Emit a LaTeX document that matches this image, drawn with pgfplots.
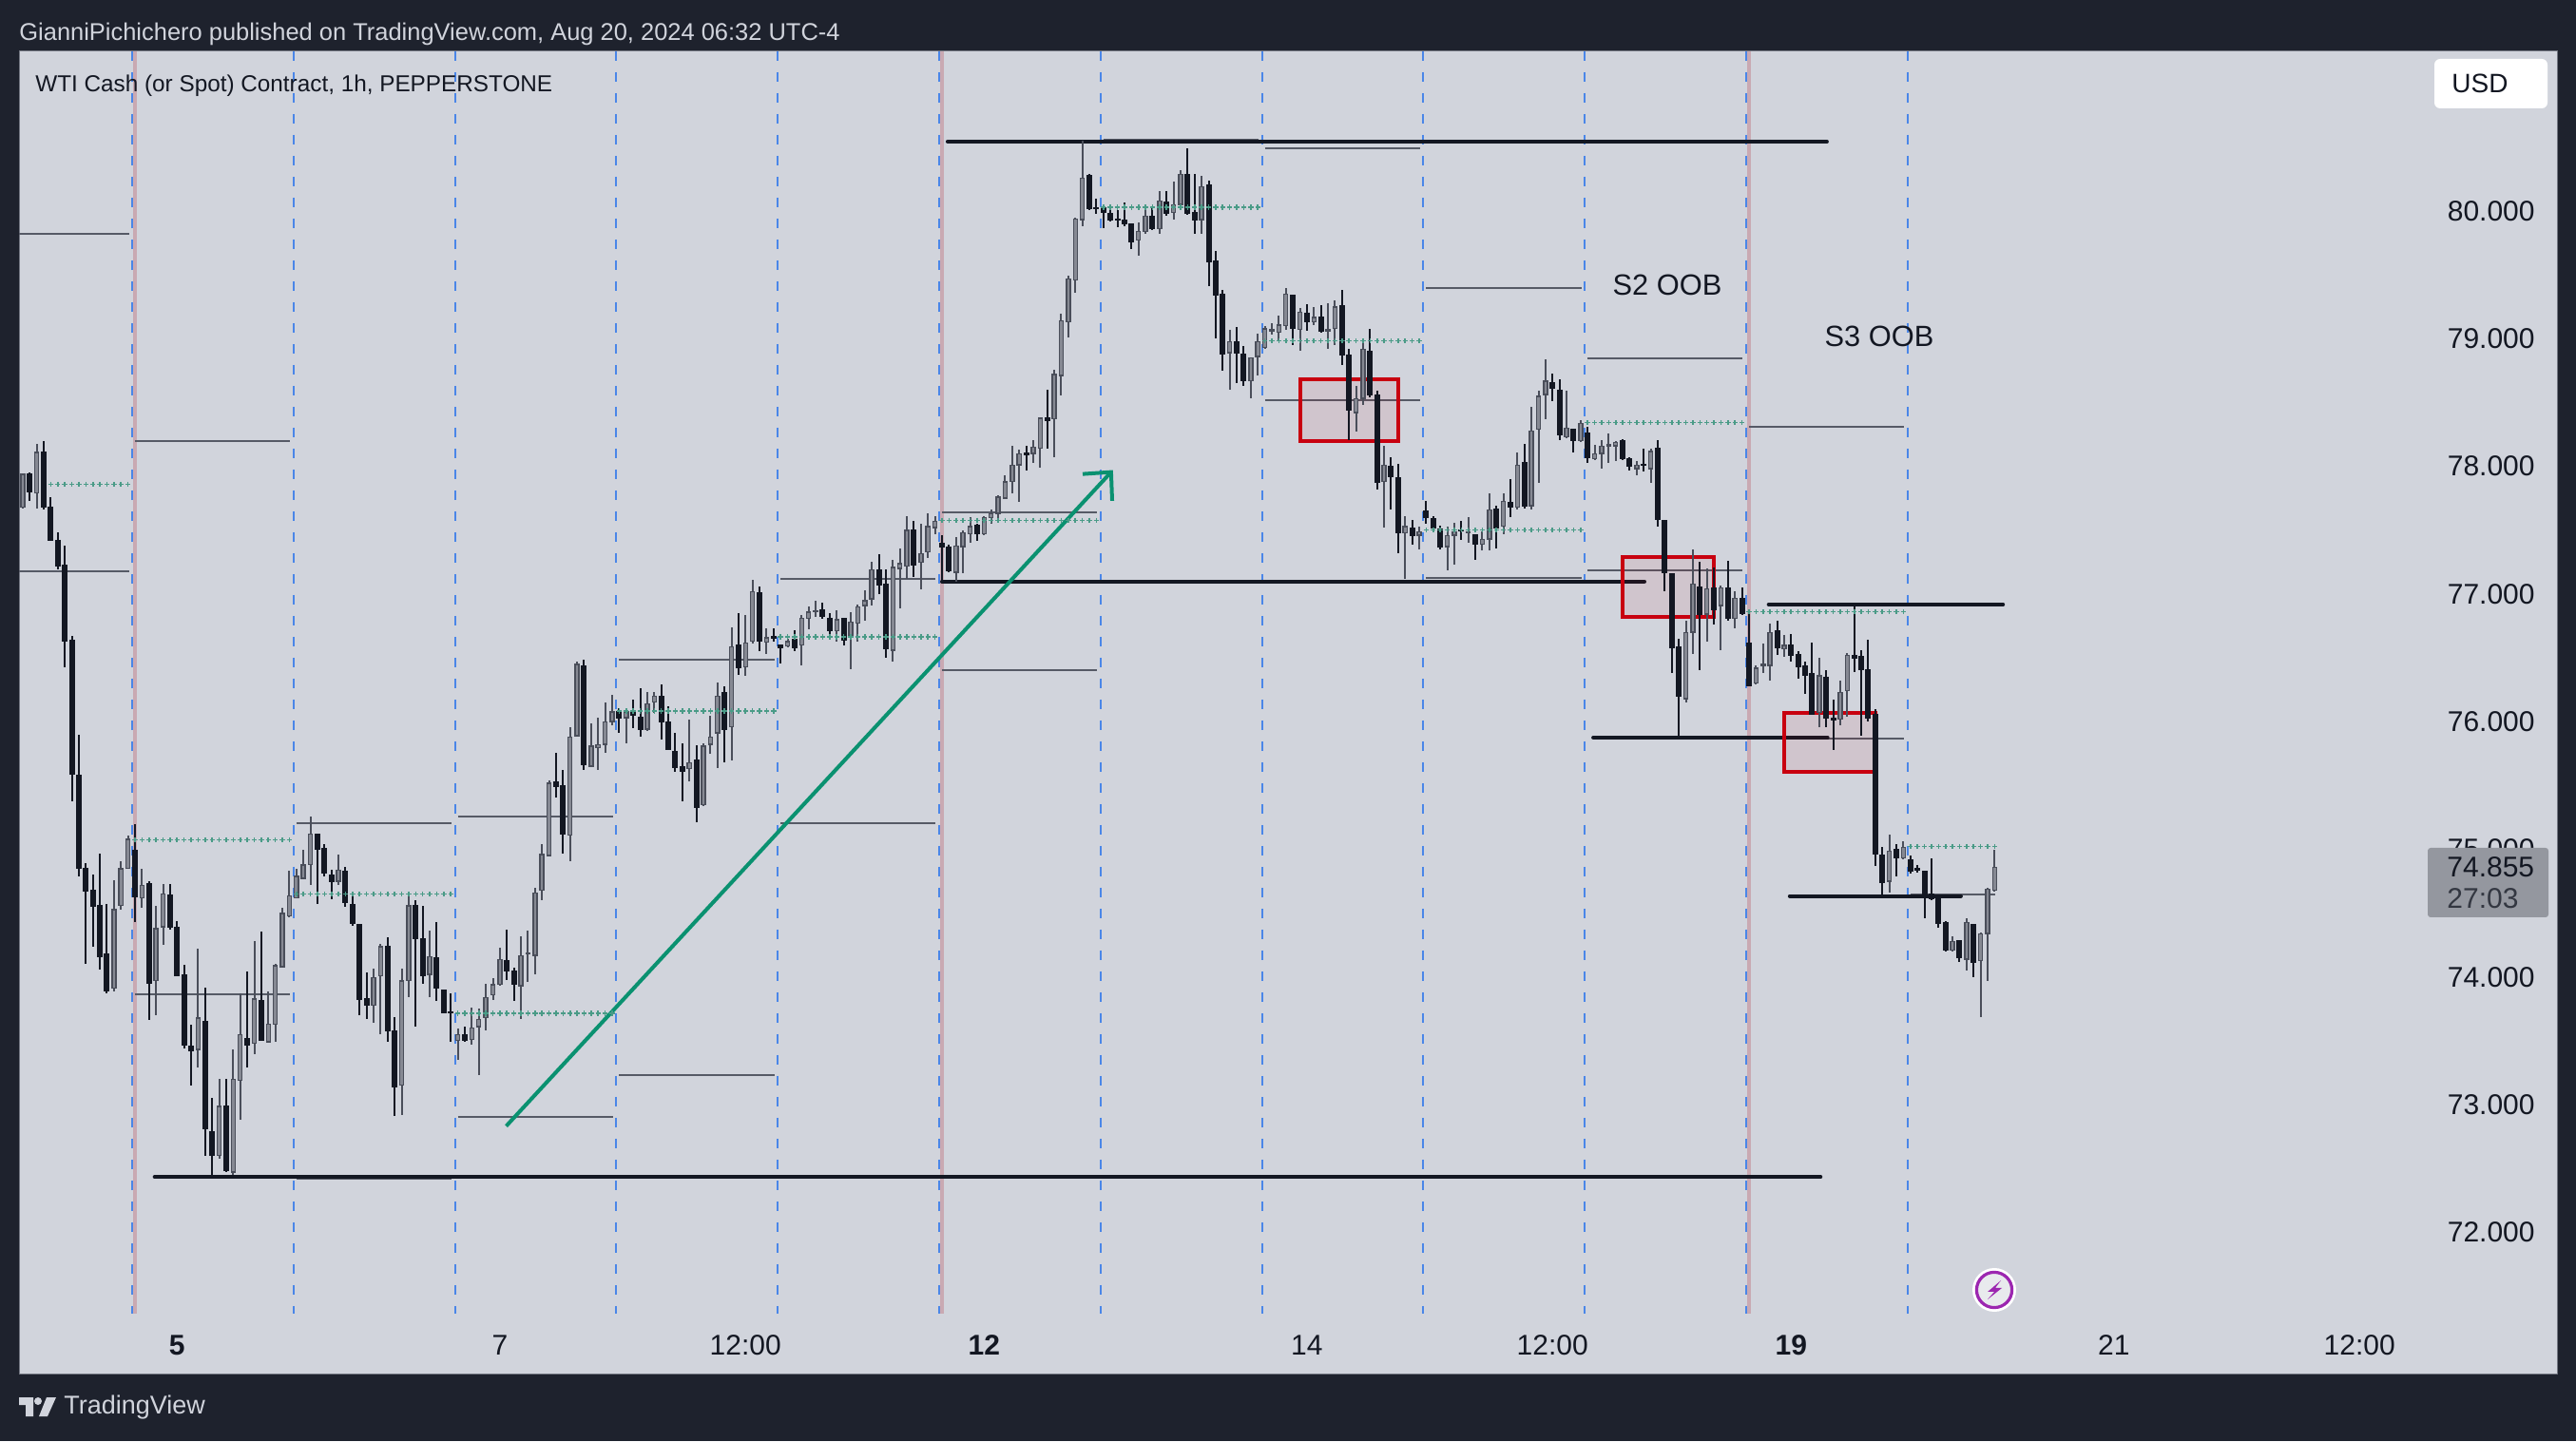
\documentclass[border=0pt]{standalone}
\usepackage{pgfplots}
\usepackage{pgfplotstable}
\usepackage{fontspec}
\setmainfont{Liberation Sans}
\pgfplotsset{compat=1.18}
\definecolor{dark}{HTML}{1E222D}
\definecolor{panel}{HTML}{D1D4DC}
\definecolor{ink}{HTML}{131722}
\definecolor{wickup}{HTML}{4A4E5A}
\definecolor{bodyup}{HTML}{868993}
\definecolor{dayblue}{HTML}{4A86E8}
\definecolor{daypink}{HTML}{C9A9B2}
\definecolor{lvlgray}{HTML}{565A66}
\definecolor{dotgreen}{HTML}{4A9B87}
\definecolor{arrowgreen}{HTML}{0A9170}
\definecolor{boxred}{HTML}{C8000F}
\definecolor{tag}{HTML}{94979F}
\definecolor{bolt}{HTML}{9C27B0}
\pgfplotstableread{
i o h l c
0 77.68 77.94 77.67 77.94
1 77.94 77.95 77.73 77.80
2 77.79 78.18 77.67 78.11
3 78.11 78.20 77.66 77.68
4 77.68 77.76 77.42 77.42
5 77.42 77.48 77.19 77.22
6 77.23 77.38 76.43 76.63
7 76.64 76.67 75.38 75.59
8 75.58 75.90 74.79 74.85
9 74.85 74.89 74.10 74.67
10 74.68 74.80 74.24 74.55
11 74.56 74.97 74.06 74.16
12 74.18 74.57 73.87 73.89
13 73.91 74.76 73.89 74.53
14 74.56 74.91 74.53 74.85
15 74.85 75.11 74.85 75.08
16 74.99 75.20 74.43 74.63
17 74.62 74.85 74.54 74.72
18 74.73 74.75 73.66 73.95
19 73.97 74.56 73.70 74.38
20 74.39 74.73 74.25 74.65
21 74.64 74.73 74.37 74.39
22 74.39 74.44 74.01 74.01
23 74.02 74.10 73.44 73.47
24 73.46 73.63 73.15 73.42
25 73.43 74.22 73.29 73.68
26 73.65 73.92 72.60 72.81
27 72.79 73.05 72.44 72.60
28 72.60 73.20 72.58 72.99
29 72.99 73.20 72.47 72.48
30 72.47 73.43 72.45 73.20
31 73.19 73.87 72.88 73.55
32 73.52 74.04 73.29 73.47
33 73.48 74.28 73.40 73.83
34 73.82 74.36 73.50 73.50
35 73.49 73.89 73.49 73.63
36 73.63 74.10 73.49 74.09
37 74.08 74.54 74.08 74.50
38 74.48 74.83 74.47 74.64
39 74.62 74.85 74.62 74.79
40 74.77 75.00 74.77 74.88
41 74.88 75.26 74.72 75.12
42 75.12 75.12 74.57 75.00
43 75.01 75.04 74.79 74.81
44 74.80 74.84 74.61 74.75
45 74.75 74.96 74.72 74.84
46 74.83 74.86 74.55 74.58
47 74.57 74.64 74.40 74.42
48 74.41 74.41 73.70 73.82
49 73.83 74.04 73.67 73.78
50 73.78 74.07 73.64 74.00
51 74.01 74.26 73.55 74.24
52 74.24 74.31 73.49 73.58
53 73.58 73.69 72.91 73.14
54 73.15 74.07 72.92 73.97
55 73.97 74.65 73.84 74.56
56 74.56 74.60 73.61 74.30
57 74.30 74.56 73.95 74.01
58 74.02 74.36 73.84 74.16
59 74.15 74.43 73.81 73.91
60 73.90 73.90 73.72 73.72
61 73.73 73.87 73.49 73.72
62 73.50 73.60 73.35 73.55
63 73.55 73.61 73.49 73.50
64 73.51 73.76 73.47 73.60
65 73.61 73.75 73.23 73.67
66 73.68 73.95 73.58 73.84
67 73.86 73.99 73.82 73.94
68 73.94 74.23 73.93 74.14
69 74.13 74.37 73.98 74.05
70 74.05 74.07 73.81 73.94
71 73.93 74.32 73.67 74.17
72 74.18 74.36 73.96 74.19
73 74.17 74.70 74.02 74.66
74 74.68 75.04 74.60 74.96
75 74.95 75.54 74.95 75.52
76 75.53 75.76 75.41 75.49
77 75.50 75.62 74.97 75.12
78 75.11 75.96 74.91 75.88
79 75.89 76.47 75.89 76.45
80 76.44 76.49 75.62 75.66
81 75.65 75.99 75.65 75.81
82 75.80 76.03 75.62 75.82
83 75.82 76.15 75.76 76.00
84 76.00 76.21 75.97 76.08
85 76.08 76.11 75.91 76.03
86 76.03 76.11 75.83 76.08
87 76.08 76.17 75.95 76.05
88 76.04 76.26 75.88 75.94
89 75.94 76.23 75.93 76.14
90 76.15 76.23 76.07 76.20
91 76.20 76.29 75.86 76.00
92 76.00 76.12 75.78 75.78
93 75.77 75.91 75.61 75.64
94 75.65 75.83 75.38 75.61
95 75.63 76.02 75.53 75.68
96 75.70 75.82 75.21 75.33
97 75.35 75.83 75.34 75.81
98 75.82 76.05 75.75 75.88
99 75.91 76.31 75.64 76.20
100 76.23 76.28 75.68 75.94
101 75.96 76.74 75.70 76.59
102 76.60 76.85 76.37 76.42
103 76.43 76.84 76.36 76.62
104 76.63 77.11 76.61 77.02
105 77.01 77.06 76.55 76.63
106 76.62 76.73 76.53 76.66
107 76.67 76.73 76.63 76.65
108 76.60 76.60 76.46 76.58
109 76.59 76.65 76.58 76.63
110 76.65 76.72 76.55 76.58
111 76.60 76.84 76.44 76.81
112 76.81 76.90 76.72 76.86
113 76.86 76.95 76.82 76.87
114 76.88 76.93 76.81 76.82
115 76.81 76.85 76.69 76.71
116 76.71 76.87 76.63 76.80
117 76.81 76.81 76.60 76.64
118 76.66 76.86 76.41 76.78
119 76.77 76.92 76.63 76.90
120 76.91 77.03 76.79 76.95
121 76.96 77.25 76.91 77.19
122 77.19 77.31 77.00 77.07
123 77.08 77.19 76.50 76.57
124 76.56 77.27 76.47 77.21
125 77.20 77.36 76.89 77.24
126 77.22 77.61 77.12 77.50
127 77.50 77.57 77.13 77.23
128 77.25 77.55 77.04 77.32
129 77.33 77.63 77.28 77.53
130 77.52 77.61 77.47 77.57
131 77.40 77.46 77.10 77.37
132 77.37 77.39 77.17 77.18
133 77.17 77.45 77.10 77.38
134 77.37 77.50 77.16 77.48
135 77.47 77.60 77.40 77.53
136 77.54 77.55 77.42 77.47
137 77.47 77.61 77.46 77.60
138 77.60 77.66 77.55 77.63
139 77.63 77.77 77.58 77.76
140 77.75 77.93 77.75 77.88
141 77.88 78.16 77.79 78.01
142 78.01 78.13 77.72 78.10
143 78.11 78.16 77.97 78.09
144 78.10 78.21 78.03 78.15
145 78.14 78.38 77.99 78.38
146 78.38 78.60 78.14 78.36
147 78.37 78.76 78.07 78.72
148 78.71 79.20 78.56 79.14
149 79.13 79.49 79.01 79.47
150 79.46 79.95 79.36 79.94
151 79.93 80.55 79.88 80.26
152 80.28 80.29 80.01 80.02
153 80.03 80.10 79.98 80.02
154 80.03 80.05 79.87 79.99
155 79.98 80.05 79.92 79.93
156 79.94 80.01 79.87 79.93
157 79.93 80.07 79.88 79.90
158 79.90 79.90 79.70 79.76
159 79.77 79.91 79.65 79.84
160 79.84 80.03 79.82 79.96
161 79.96 80.04 79.85 79.86
162 79.86 80.16 79.82 80.08
163 80.07 80.16 79.96 79.98
164 79.99 80.23 79.93 80.05
165 80.05 80.32 80.02 80.29
166 80.29 80.49 79.97 79.98
167 79.99 80.29 79.82 79.93
168 79.93 80.28 79.82 80.19
169 80.21 80.24 79.41 79.60
170 79.61 79.69 79.00 79.34
171 79.35 79.38 78.75 78.88
172 78.89 79.07 78.60 78.98
173 78.98 79.09 78.65 78.89
174 78.88 78.94 78.63 78.67
175 78.67 78.85 78.53 78.85
176 78.86 79.04 78.71 78.98
177 78.93 79.10 78.92 79.08
178 79.06 79.12 79.03 79.07
179 79.05 79.18 78.98 79.11
180 79.10 79.40 79.07 79.35
181 79.34 79.34 78.95 79.08
182 79.07 79.24 78.91 79.21
183 79.20 79.27 79.06 79.13
184 79.13 79.25 79.11 79.17
185 79.17 79.26 79.05 79.06
186 79.06 79.28 78.92 79.07
187 79.08 79.30 78.95 79.25
188 79.26 79.38 78.79 78.87
189 78.87 78.92 78.21 78.44
190 78.42 78.63 78.27 78.53
191 78.53 78.97 78.48 78.92
192 78.90 79.08 78.54 78.56
193 78.56 78.59 77.82 77.87
194 77.88 78.16 77.52 78.01
195 78.00 78.07 77.66 77.92
196 77.91 78.02 77.32 77.48
197 77.48 77.61 77.12 77.53
198 77.52 77.58 77.39 77.46
199 77.46 77.53 77.35 77.49
200 77.65 77.73 77.55 77.60
201 77.59 77.61 77.51 77.52
202 77.51 77.54 77.35 77.37
203 77.37 77.53 77.19 77.46
204 77.46 77.56 77.23 77.49
205 77.50 77.57 77.42 77.49
206 77.48 77.60 77.40 77.49
207 77.47 77.47 77.27 77.39
208 77.39 77.49 77.34 77.43
209 77.43 77.79 77.34 77.66
210 77.67 77.69 77.36 77.52
211 77.53 77.79 77.47 77.73
212 77.72 77.90 77.60 77.68
213 77.68 78.11 77.66 78.01
214 78.03 78.18 77.67 77.69
215 77.69 78.47 77.66 78.28
216 78.29 78.59 77.87 78.55
217 78.56 78.84 78.37 78.67
218 78.66 78.73 78.51 78.61
219 78.60 78.68 78.21 78.25
220 78.23 78.59 78.22 78.30
221 78.29 78.29 78.11 78.20
222 78.20 78.36 78.19 78.34
223 78.26 78.31 78.03 78.07
224 78.06 78.17 78.05 78.10
225 78.10 78.21 77.98 78.16
226 78.16 78.26 78.03 78.17
227 78.16 78.20 78.04 78.19
228 78.20 78.21 78.05 78.06
229 78.06 78.07 77.97 78.00
230 77.98 78.04 77.93 78.01
231 78.02 78.14 77.96 78.01
232 77.98 78.14 77.87 78.12
233 78.14 78.21 77.53 77.58
234 77.58 77.58 77.02 77.17
235 77.16 77.16 76.38 76.58
236 76.59 76.65 75.88 76.20
237 76.18 76.79 76.15 76.70
238 76.70 77.35 76.53 77.08
239 77.06 77.25 76.40 76.84
240 76.84 77.20 76.63 77.04
241 77.05 77.21 76.76 76.88
242 76.91 77.07 76.56 77.05
243 77.05 77.26 76.79 76.81
244 76.81 77.02 76.73 76.97
245 76.97 77.05 76.84 76.85
246 76.62 76.84 76.28 76.28
247 76.30 76.44 76.29 76.42
248 76.44 76.61 76.38 76.45
249 76.44 76.77 76.32 76.70
250 76.71 76.79 76.52 76.58
251 76.57 76.68 76.51 76.60
252 76.60 76.69 76.47 76.52
253 76.53 76.55 76.34 76.43
254 76.44 76.47 76.22 76.36
255 76.38 76.62 76.06 76.06
256 76.07 76.50 75.96 76.36
257 76.35 76.40 75.96 76.03
258 76.03 76.17 75.78 76.01
259 76.02 76.32 75.97 76.23
260 76.24 76.54 76.04 76.52
261 76.52 76.92 76.39 76.50
262 76.51 76.56 75.89 76.41
263 76.41 76.64 76.00 76.03
264 76.06 76.10 74.87 74.96
265 74.96 75.02 74.63 74.74
266 74.75 75.12 74.66 74.99
267 75.00 75.04 74.79 74.93
268 74.93 75.06 74.92 75.02
269 74.92 74.95 74.81 74.83
270 74.85 74.88 74.82 74.84
271 74.83 74.83 74.46 74.65
272 74.65 74.93 74.60 74.61
273 74.62 74.62 74.39 74.42
274 74.43 74.44 74.20 74.21
275 74.21 74.32 74.20 74.28
276 74.29 74.29 74.12 74.15
277 74.14 74.46 74.05 74.43
278 74.41 74.41 74.00 74.11
279 74.13 74.35 73.69 74.34
280 74.34 74.70 73.97 74.69
281 74.68 75.00 74.67 74.86
}\candles
\begin{document}
\begin{tikzpicture}
\fill[dark] (0,0) rectangle (1355pt,758pt);
\begin{axis}[
  at={(10pt,35.5pt)}, anchor=south west,
  scale only axis, width=1335pt, height=695.5pt,
  xmin=-0.525, xmax=361.14, ymin=70.8935, ymax=81.251,
  enlargelimits=false, unbounded coords=jump,
  axis background/.style={fill=panel},
  axis line style={draw=wickup!70!panel, line width=0.5pt},
  major tick length=0pt, minor tick num=0,
  xtick={22,68,103,137,183,218,252,298,333},
  xticklabels={\textbf{5},7,12:00,\textbf{12},14,12:00,\textbf{19},21,12:00},
  ytick={72,73,74,75,76,77,78,79,80},
  yticklabel pos=right,
  y tick label style={/pgf/number format/fixed, /pgf/number format/fixed zerofill, /pgf/number format/precision=3, /pgf/number format/assume math mode=true, anchor=east, inner sep=0pt, xshift=-11.5pt, font=\fontsize{15}{18}\selectfont, text=ink},
  x tick label style={anchor=center, inner sep=0pt, yshift=15pt, font=\fontsize{15}{18}\selectfont, text=ink},
]
% session separators
\addplot[daypink, line width=2pt, forget plot] coordinates {(16,71.363)(16,81.251)(16,nan)(131,71.363)(131,81.251)(131,nan)(246,71.363)(246,81.251)};
\addplot[dayblue, line width=1pt, dash pattern=on 5pt off 6pt, forget plot] coordinates {
(15.6,81.251)(15.6,71.363)(15.6,nan)(38.6,81.251)(38.6,71.363)(38.6,nan)(61.6,81.251)(61.6,71.363)(61.6,nan)
(84.6,81.251)(84.6,71.363)(84.6,nan)(107.6,81.251)(107.6,71.363)(107.6,nan)(130.6,81.251)(130.6,71.363)(130.6,nan)
(153.6,81.251)(153.6,71.363)(153.6,nan)(176.6,81.251)(176.6,71.363)(176.6,nan)(199.6,81.251)(199.6,71.363)(199.6,nan)
(222.6,81.251)(222.6,71.363)(222.6,nan)(245.6,81.251)(245.6,71.363)(245.6,nan)(268.6,81.251)(268.6,71.363)};
% previous day high and low
\addplot[lvlgray, line width=1pt, forget plot] coordinates {
(-0.5,79.82)(15.2,79.82)(15.2,nan)(-0.5,77.18)(15.2,77.18)(15.2,nan)
(16,78.196)(38.1,78.196)(38.1,nan)(16,73.867)(38.1,73.867)(38.1,nan)
(39,75.205)(61.1,75.205)(61.1,nan)(39,72.42)(61.1,72.42)(61.1,nan)
(62,75.256)(84.1,75.256)(84.1,nan)(62,72.905)(84.1,72.905)(84.1,nan)
(85,76.486)(107.1,76.486)(107.1,nan)(85,73.23)(107.1,73.23)(107.1,nan)
(108,77.117)(130.1,77.117)(130.1,nan)(108,75.206)(130.1,75.206)(130.1,nan)
(131,77.637)(153.1,77.637)(153.1,nan)(131,76.40)(153.1,76.40)(153.1,nan)
(154,80.56)(176.1,80.56)(176.1,nan)(154,77.10)(176.1,77.10)(176.1,nan)
(177,80.494)(199.1,80.494)(199.1,nan)(177,78.52)(199.1,78.52)(199.1,nan)
(200,79.40)(222.1,79.40)(222.1,nan)(200,77.125)(222.1,77.125)(222.1,nan)
(223,78.843)(245.1,78.843)(245.1,nan)(223,77.183)(245.1,77.183)(245.1,nan)
(246,78.313)(268.1,78.313)(268.1,nan)(246,75.87)(268.1,75.87)(268.1,nan)
(269,76.917)(281.1,76.917)(281.1,nan)(269,74.65)(281.1,74.65)};
% prior day pivots
\addplot[only marks, mark=+, mark size=1.35pt, mark options={draw=dotgreen, line width=0.8pt}, forget plot] coordinates {
(4,77.858)(5,77.858)(6,77.858)(7,77.858)(8,77.858)(9,77.858)(10,77.858)(11,77.858)(12,77.858)(13,77.858)(14,77.858)(15,77.858)
(16,75.073)(17,75.073)(18,75.073)(19,75.073)(20,75.073)(21,75.073)(22,75.073)(23,75.073)(24,75.073)(25,75.073)(26,75.073)(27,75.073)(28,75.073)(29,75.073)(30,75.073)(31,75.073)(32,75.073)(33,75.073)(34,75.073)(35,75.073)(36,75.073)(37,75.073)(38,75.073)
(39,74.65)(40,74.65)(41,74.65)(42,74.65)(43,74.65)(44,74.65)(45,74.65)(46,74.65)(47,74.65)(48,74.65)(49,74.65)(50,74.65)(51,74.65)(52,74.65)(53,74.65)(54,74.65)(55,74.65)(56,74.65)(57,74.65)(58,74.65)(59,74.65)(60,74.65)(61,74.65)
(62,73.717)(63,73.717)(64,73.717)(65,73.717)(66,73.717)(67,73.717)(68,73.717)(69,73.717)(70,73.717)(71,73.717)(72,73.717)(73,73.717)(74,73.717)(75,73.717)(76,73.717)(77,73.717)(78,73.717)(79,73.717)(80,73.717)(81,73.717)(82,73.717)(83,73.717)(84,73.717)
(85,76.083)(86,76.083)(87,76.083)(88,76.083)(89,76.083)(90,76.083)(91,76.083)(92,76.083)(93,76.083)(94,76.083)(95,76.083)(96,76.083)(97,76.083)(98,76.083)(99,76.083)(100,76.083)(101,76.083)(102,76.083)(103,76.083)(104,76.083)(105,76.083)(106,76.083)(107,76.083)
(108,76.665)(109,76.665)(110,76.665)(111,76.665)(112,76.665)(113,76.665)(114,76.665)(115,76.665)(116,76.665)(117,76.665)(118,76.665)(119,76.665)(120,76.665)(121,76.665)(122,76.665)(123,76.665)(124,76.665)(125,76.665)(126,76.665)(127,76.665)(128,76.665)(129,76.665)(130,76.665)
(131,77.577)(132,77.577)(133,77.577)(134,77.577)(135,77.577)(136,77.577)(137,77.577)(138,77.577)(139,77.577)(140,77.577)(141,77.577)(142,77.577)(143,77.577)(144,77.577)(145,77.577)(146,77.577)(147,77.577)(148,77.577)(149,77.577)(150,77.577)(151,77.577)(152,77.577)(153,77.577)
(154,80.03)(155,80.03)(156,80.03)(157,80.03)(158,80.03)(159,80.03)(160,80.03)(161,80.03)(162,80.03)(163,80.03)(164,80.03)(165,80.03)(166,80.03)(167,80.03)(168,80.03)(169,80.03)(170,80.03)(171,80.03)(172,80.03)(173,80.03)(174,80.03)(175,80.03)(176,80.03)
(177,78.983)(178,78.983)(179,78.983)(180,78.983)(181,78.983)(182,78.983)(183,78.983)(184,78.983)(185,78.983)(186,78.983)(187,78.983)(188,78.983)(189,78.983)(190,78.983)(191,78.983)(192,78.983)(193,78.983)(194,78.983)(195,78.983)(196,78.983)(197,78.983)(198,78.983)(199,78.983)
(200,77.501)(201,77.501)(202,77.501)(203,77.501)(204,77.501)(205,77.501)(206,77.501)(207,77.501)(208,77.501)(209,77.501)(210,77.501)(211,77.501)(212,77.501)(213,77.501)(214,77.501)(215,77.501)(216,77.501)(217,77.501)(218,77.501)(219,77.501)(220,77.501)(221,77.501)(222,77.501)
(223,78.342)(224,78.342)(225,78.342)(226,78.342)(227,78.342)(228,78.342)(229,78.342)(230,78.342)(231,78.342)(232,78.342)(233,78.342)(234,78.342)(235,78.342)(236,78.342)(237,78.342)(238,78.342)(239,78.342)(240,78.342)(241,78.342)(242,78.342)(243,78.342)(244,78.342)(245,78.342)
(246,76.861)(247,76.861)(248,76.861)(249,76.861)(250,76.861)(251,76.861)(252,76.861)(253,76.861)(254,76.861)(255,76.861)(256,76.861)(257,76.861)(258,76.861)(259,76.861)(260,76.861)(261,76.861)(262,76.861)(263,76.861)(264,76.861)(265,76.861)(266,76.861)(267,76.861)(268,76.861)
(269,75.021)(270,75.021)(271,75.021)(272,75.021)(273,75.021)(274,75.021)(275,75.021)(276,75.021)(277,75.021)(278,75.021)(279,75.021)(280,75.021)(281,75.021)};
% key levels
\addplot[ink, line width=2pt, line cap=round, forget plot] coordinates {
(131.8,80.544)(257.1,80.544)(257.1,nan)(131,77.098)(231.1,77.098)(231.1,nan)(18.8,72.434)(256.2,72.434)(256.2,nan)
(248.8,76.918)(282.2,76.918)(282.2,nan)(223.8,75.875)(257.2,75.875)(257.2,nan)(251.8,74.634)(276.2,74.634)};
% zones
\addplot[draw=boxred, line width=2pt, fill=boxred, fill opacity=0.07, draw opacity=1, forget plot] coordinates {(182.04,78.682)(196.02,78.682)(196.02,78.198)(182.04,78.198)} -- cycle;
\addplot[draw=boxred, line width=2pt, fill=boxred, fill opacity=0.07, draw opacity=1, forget plot] coordinates {(228,77.29)(241,77.29)(241,76.82)(228,76.82)} -- cycle;
\addplot[draw=boxred, line width=2pt, fill=boxred, fill opacity=0.07, draw opacity=1, forget plot] coordinates {(251,76.07)(264,76.07)(264,75.61)(251,75.61)} -- cycle;
% arrow
\addplot[arrowgreen, line width=2pt, forget plot] coordinates {(68.9,72.832)(155.1,77.955)};
\addplot[arrowgreen, line width=2pt, forget plot] coordinates {(151.05,77.94)(155.1,77.955)(155.25,77.73)};
% candles: wicks
\addplot[draw=none, no marks, forget plot, x filter/.expression={\thisrow{c}>=\thisrow{o} ? x : nan},
  error bars/.cd, y dir=both, y explicit, error mark=none, error bar style={draw=wickup, line width=1pt}]
  table[x=i, y expr=(\thisrow{h}+\thisrow{l})/2, y error expr=(\thisrow{h}-\thisrow{l})/2] {\candles};
\addplot[draw=none, no marks, forget plot, x filter/.expression={\thisrow{c}<\thisrow{o} ? x : nan},
  error bars/.cd, y dir=both, y explicit, error mark=none, error bar style={draw=ink, line width=1pt}]
  table[x=i, y expr=(\thisrow{h}+\thisrow{l})/2, y error expr=(\thisrow{h}-\thisrow{l})/2] {\candles};
% candles: bodies
\addplot[draw=none, no marks, forget plot, x filter/.expression={\thisrow{c}>=\thisrow{o} ? x : nan},
  error bars/.cd, y dir=both, y explicit, error mark=none, error bar style={draw=wickup, line width=2.75pt}]
  table[x=i, y expr=(\thisrow{c}+\thisrow{o})/2, y error expr=(\thisrow{c}-\thisrow{o})/2+0.003] {\candles};
\addplot[draw=none, no marks, forget plot, x filter/.expression={\thisrow{c}>=\thisrow{o} ? x : nan},
  error bars/.cd, y dir=both, y explicit, error mark=none, error bar style={draw=bodyup, line width=1.3pt}]
  table[x=i, y expr=(\thisrow{c}+\thisrow{o})/2, y error expr={max((\thisrow{c}-\thisrow{o})/2-0.007,0)}] {\candles};
\addplot[draw=none, no marks, forget plot, x filter/.expression={\thisrow{c}<\thisrow{o} ? x : nan},
  error bars/.cd, y dir=both, y explicit, error mark=none, error bar style={draw=ink, line width=3pt}]
  table[x=i, y expr=(\thisrow{c}+\thisrow{o})/2, y error expr=(\thisrow{o}-\thisrow{c})/2+0.003] {\candles};
\end{axis}
\begin{scope}[x=0.5pt,y=-0.5pt,yshift=758pt]
\node[anchor=west,inner sep=0pt,text=panel,font=\fontsize{12.73}{15}\selectfont] at (20,36) {GianniPichichero published on TradingView.com, Aug 20, 2024 06:32 UTC-4};
\node[anchor=west,inner sep=0pt,text=ink,font=\fontsize{12.15}{15}\selectfont] at (37,90) {WTI Cash (or Spot) Contract, 1h, PEPPERSTONE};
\node[anchor=center,inner sep=0pt,text=ink,font=\fontsize{15.4}{18}\selectfont] at (1754,300) {S2 OOB};
\node[anchor=center,inner sep=0pt,text=ink,font=\fontsize{15.4}{18}\selectfont] at (1977,354) {S3 OOB};
\fill[white,rounded corners=3pt] (2561,62) rectangle (2680,114);
\node[anchor=center,inner sep=0pt,text=ink,font=\fontsize{14}{17}\selectfont] at (2609,88) {USD};
\fill[tag,rounded corners=1.5pt] (2554,892) rectangle (2681,965);
\node[anchor=west,inner sep=0pt,text=ink,font=\fontsize{15}{18}\selectfont] at (2574,912) {74.855};
\node[anchor=west,inner sep=0pt,text=ink!75!tag,font=\fontsize{15}{18}\selectfont] at (2574,945) {27:03};
% alert icon
\fill[white] (2098,1357) circle (11.5pt);
\draw[bolt,line width=1.6pt,fill=panel!50!white] (2098,1357) circle (9.3pt);
\fill[bolt] (2105,1347) -- (2091,1359) -- (2098,1359) -- (2091,1367) -- (2106,1355) -- (2099,1355) -- cycle;
% TradingView logo
\fill[panel] (20,1470) -- (35,1470) -- (35,1490) -- (27,1490) -- (27,1478) -- (20,1478) -- cycle;
\fill[panel] (40,1474) circle (2pt);
\fill[panel] (59,1470) -- (49,1470) -- (41,1490) -- (50,1490) -- cycle;
\node[anchor=west,inner sep=0pt,text=panel,font=\fontsize{13.5}{17}\selectfont] at (67,1481) {TradingView};
\end{scope}
\end{tikzpicture}
\end{document}
